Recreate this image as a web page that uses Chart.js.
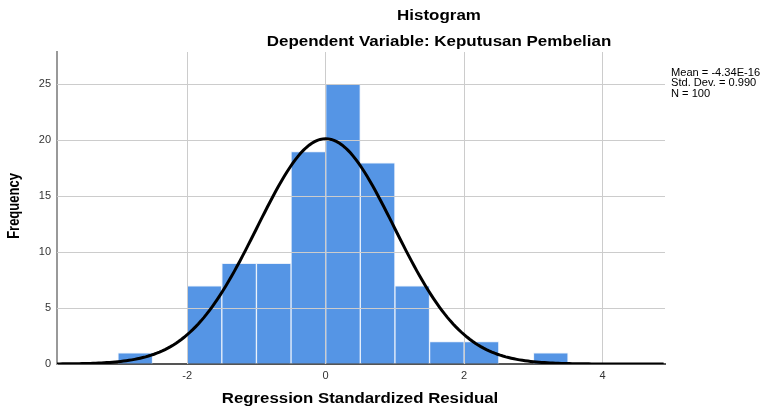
<!DOCTYPE html>
<html>
<head>
<meta charset="utf-8">
<script src="https://cdn.jsdelivr.net/npm/chart.js@4.4.1/dist/chart.umd.min.js"></script>
<style>
  html, body { margin: 0; padding: 0; background: #fff; }
  #wrap { width: 762px; height: 408px; }
</style>
</head>
<body>
<div id="wrap"><canvas id="histChart" width="762" height="408"></canvas></div>
<script>
// Histogram data (bin centres, width 0.5)
const binCenters = [-2.75, -2.25, -1.75, -1.25, -0.75, -0.25, 0.25, 0.75, 1.25, 1.75, 2.25, 2.75, 3.25];
const binCounts = [1, 0, 7, 9, 9, 19, 25, 18, 7, 2, 2, 0, 1];
const binWidth = 0.5;

// Stats shown beside the chart
const statMean = -4.34e-16;
const statSd = 0.990;
const statN = 100;
const statLabels = ['Mean = -4.34E-16', 'Std. Dev. = 0.990', 'N = 100'];

// Tick labels
const xTicks = [-2, 0, 2, 4];
const yTicks = [0, 5, 10, 15, 20, 25];

// Normal curve overlay from the stats above
const curvePts = [];
for (let x = -3.88; x <= 4.9; x += 0.04) {
  const z = (x - statMean) / statSd;
  const y = statN * binWidth / (statSd * Math.sqrt(2 * Math.PI)) * Math.exp(-0.5 * z * z);
  curvePts.push({ x: x, y: y });
}

const FONT = '"Liberation Sans", Arial, sans-serif';
const GRID = '#cccccc';

// text is a little wider than plain Arial in the original, so stretch it
function wideText(c, s, x, y, sx) {
  c.save();
  c.translate(x, y);
  c.scale(sx, 1);
  c.fillText(s, 0, 0);
  c.restore();
}

// same pixel snapping as Chart.js uses for 1px grid lines
const snap = p => Math.round(p - 0.5) + 0.5;

// grid shows through the bars, but stays under the curve
const gridOverBars = {
  id: 'gridOverBars',
  beforeDatasetDraw(chart, args) {
    if (args.index !== 0) return;
    const c = chart.ctx, a = chart.chartArea;
    const xs = chart.scales.x, ys = chart.scales.y;
    c.save();
    c.strokeStyle = GRID;
    c.lineWidth = 1;
    c.beginPath();
    yTicks.forEach(v => {
      if (v === 0) return;
      const py = snap(ys.getPixelForValue(v));
      c.moveTo(a.left, py);
      c.lineTo(a.right, py);
    });
    xTicks.forEach(v => {
      const px = snap(xs.getPixelForValue(v));
      c.moveTo(px, a.top);
      c.lineTo(px, a.bottom);
    });
    c.stroke();
    c.restore();
  }
};

const textPlugin = {
  id: 'textPlugin',
  afterDraw(chart) {
    const c = chart.ctx;
    c.save();
    c.fillStyle = '#000';
    c.textAlign = 'center';
    c.textBaseline = 'middle';
    c.font = 'bold 14px ' + FONT;
    wideText(c, 'Histogram', 439, 16, 1.21);
    wideText(c, 'Dependent Variable: Keputusan Pembelian', 439, 42, 1.21);
    wideText(c, 'Regression Standardized Residual', 360, 399, 1.2);
    c.save();
    c.translate(15, 206);
    c.rotate(-Math.PI / 2);
    c.scale(1, 1.2);
    c.font = 'bold 13px ' + FONT;
    c.fillText('Frequency', 0, 0);
    c.restore();
    c.textAlign = 'left';
    c.font = '10px ' + FONT;
    statLabels.forEach((s, i) => wideText(c, s, 671, 73 + i * 10.5, 1.11));
    c.restore();
  }
};

document.addEventListener('DOMContentLoaded', () => {
  const ctx = document.getElementById('histChart');
  new Chart(ctx.getContext('2d'), {
    data: {
      datasets: [{
        type: 'line',
        data: curvePts,
        borderColor: '#000',
        borderWidth: 3,
        pointRadius: 0,
        fill: false,
        tension: 0
      }, {
        type: 'bar',
        data: binCenters.map((x, i) => ({ x: x, y: binCounts[i] })),
        backgroundColor: '#5595e5',
        borderColor: '#e8f0fb',
        borderWidth: 1,
        borderSkipped: 'bottom',
        barPercentage: 1,
        categoryPercentage: 1
      }]
    },
    options: {
      responsive: false,
      animation: false,
      layout: { padding: { left: 0, right: 97, top: 52, bottom: 0 } },
      plugins: { legend: { display: false }, tooltip: { enabled: false } },
      scales: {
        x: {
          type: 'linear',
          offset: false,
          min: -3.88,
          max: 4.9,
          afterBuildTicks: s => { s.ticks = xTicks.map(v => ({ value: v })); },
          afterFit: s => { s.height = 44; },
          grid: { color: GRID, lineWidth: 1, drawTicks: false, offset: false },
          border: { color: '#555555', width: 2 },
          ticks: { font: { size: 11, family: FONT }, color: '#333', padding: 5 }
        },
        y: {
          min: 0,
          max: 27.9,
          afterBuildTicks: s => { s.ticks = yTicks.map(v => ({ value: v })); },
          afterFit: s => { s.width = 57; },
          grid: { color: GRID, lineWidth: 1, drawTicks: false },
          border: { color: '#999999', width: 2 },
          ticks: { font: { size: 11, family: FONT }, color: '#333', padding: 6 }
        }
      }
    },
    plugins: [gridOverBars, textPlugin]
  });
});
</script>
</body>
</html>
